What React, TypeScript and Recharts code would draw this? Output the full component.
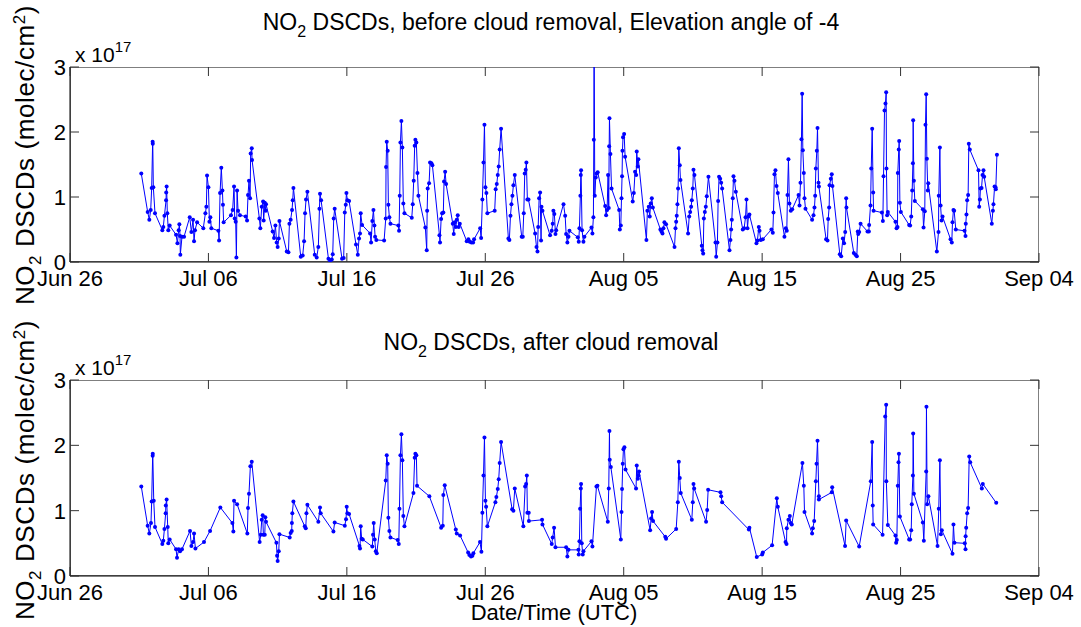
import React from "react";
import { LineChart, Line, XAxis, YAxis, ReferenceArea } from "recharts";

// x axis: days since Jun 26 00:00 UTC
const DAY_TICKS = [0, 10, 20, 30, 40, 50, 60, 70];
const DAY_LABELS = ["Jun 26", "Jul 06", "Jul 16", "Jul 26", "Aug 05", "Aug 15", "Aug 25", "Sep 04"];
const VALUE_TICKS = [0, 1, 2, 3];

// before cloud removal, elevation -4 (units of 1e17 molec/cm2)
const beforeDays = [
  5.15, 5.61, 5.73, 5.83, 5.9, 5.97, 5.98, 6.02, 6.14, 6.67, 6.74, 6.82, 6.94, 6.95, 6.98, 7.03, 7.1, 7.2,
  7.66, 7.76, 7.85, 7.9, 7.95, 7.97, 8.09, 8.24, 8.65, 8.77, 8.89, 8.96, 9.03, 9.18, 9.63, 9.78, 9.85, 9.9,
  10.0, 10.07, 10.14, 10.21, 10.72, 10.77, 10.84, 10.93, 11.01, 11.05, 11.1, 11.63, 11.75, 11.85, 11.9, 11.97,
  12.02, 12.07, 12.14, 12.28, 12.69, 12.79, 12.86, 12.93, 13.01, 13.05, 13.13, 13.15, 13.68, 13.75, 13.85,
  13.95, 13.99, 14.07, 14.14, 14.16, 14.64, 14.74, 14.84, 14.93, 15.0, 15.08, 15.13, 15.66, 15.78, 15.85,
  15.94, 16.04, 16.09, 16.14, 16.67, 16.81, 16.91, 16.98, 17.05, 17.15, 17.68, 17.82, 17.94, 18.02, 18.06,
  18.14, 18.67, 18.79, 18.91, 18.98, 19.05, 19.12, 19.65, 19.77, 19.85, 19.92, 19.97, 20.04, 20.16, 20.66,
  20.79, 20.88, 20.95, 21.0, 21.1, 21.68, 21.75, 21.84, 21.92, 21.99, 22.04, 22.13, 22.69, 22.81, 22.83,
  22.88, 22.95, 23.0, 23.07, 23.15, 23.72, 23.77, 23.82, 23.87, 23.94, 24.01, 24.08, 24.16, 24.69, 24.76,
  24.83, 24.9, 24.95, 25.02, 25.1, 25.17, 25.67, 25.77, 25.8, 25.84, 25.94, 26.01, 26.11, 26.18, 26.69,
  26.73, 26.81, 26.88, 26.97, 27.02, 27.1, 27.17, 27.65, 27.72, 27.79, 27.87, 27.94, 28.01, 28.08, 28.16,
  28.66, 28.78, 28.88, 29.0, 29.12, 29.19, 29.63, 29.7, 29.79, 29.87, 29.94, 30.01, 30.08, 30.15, 30.68,
  30.75, 30.83, 30.9, 30.97, 31.04, 31.14, 31.67, 31.74, 31.82, 31.89, 31.96, 32.03, 32.13, 32.63, 32.71,
  32.78, 32.85, 32.92, 32.97, 33.04, 33.12, 33.6, 33.7, 33.77, 33.82, 33.89, 33.96, 34.03, 34.06, 34.13,
  34.68, 34.8, 34.87, 34.92, 34.99, 35.07, 35.12, 35.65, 35.77, 35.84, 35.93, 36.01, 36.08, 36.68, 36.75,
  36.8, 36.87, 36.9, 36.92, 36.99, 37.09, 37.16, 37.67, 37.74, 37.81, 37.84, 37.86, 37.91, 37.98, 38.05,
  38.12, 38.66, 38.73, 38.8, 38.87, 38.92, 38.95, 38.97, 39.04, 39.12, 39.67, 39.72, 39.79, 39.84, 39.88,
  39.91, 39.95, 40.03, 40.1, 40.65, 40.73, 40.82, 40.9, 40.94, 41.02, 41.06, 41.64, 41.71, 41.81, 41.88,
  41.95, 42.03, 42.1, 42.65, 42.73, 42.8, 42.87, 42.94, 43.06, 43.67, 43.74, 43.79, 43.83, 43.88, 43.93,
  43.98, 44.05, 44.1, 44.65, 44.73, 44.8, 44.87, 44.92, 44.99, 45.04, 45.11, 45.64, 45.69, 45.74, 45.79,
  45.86, 45.93, 46.0, 46.12, 46.63, 46.68, 46.77, 46.82, 46.89, 46.97, 47.04, 47.11, 47.64, 47.71, 47.76,
  47.81, 47.88, 47.93, 48.0, 48.1, 48.6, 48.7, 48.8, 48.87, 48.94, 49.01, 49.08, 49.59, 49.66, 49.76,
  49.81, 49.9, 50.05, 50.67, 50.77, 50.82, 50.89, 50.96, 51.04, 51.13, 51.61, 51.71, 51.78, 51.83, 51.9,
  51.97, 52.07, 52.17, 52.63, 52.7, 52.77, 52.84, 52.89, 52.94, 53.01, 53.06, 53.13, 53.61, 53.71, 53.78,
  53.83, 53.88, 53.95, 54.0, 54.07, 54.1, 54.62, 54.72, 54.77, 54.84, 54.87, 54.96, 55.03, 55.08, 55.61,
  55.71, 55.83, 55.92, 56.0, 56.07, 56.09, 56.62, 56.74, 56.84, 56.91, 56.94, 57.01, 57.11, 57.61, 57.71,
  57.73, 57.83, 57.88, 57.95, 58.02, 58.05, 58.65, 58.72, 58.77, 58.84, 58.91, 58.96, 58.98, 59.03, 59.08,
  59.63, 59.71, 59.78, 59.8, 59.87, 59.9, 59.95, 60.02, 60.62, 60.69, 60.77, 60.84, 60.89, 60.91, 60.96,
  61.03, 61.61, 61.66, 61.75, 61.8, 61.85, 61.9, 61.97, 62.0, 62.62, 62.74, 62.76, 62.84, 62.89, 62.96,
  63.03, 63.61, 63.7, 63.75, 63.82, 63.87, 63.99, 64.62, 64.69, 64.71, 64.76, 64.81, 64.88, 64.93, 65.0,
  65.63, 65.68, 65.73, 65.77, 65.85, 65.92, 65.99, 66.04, 66.59, 66.67, 66.71, 66.79, 66.86, 66.88, 66.96,
];
const beforeValues = [
  1.36, 0.77, 0.65, 0.8, 1.14, 1.85, 1.82, 1.15, 0.75, 0.49, 0.54, 0.71, 0.95, 1.07, 1.16, 0.75, 0.49, 0.56,
  0.42, 0.29, 0.49, 0.58, 0.4, 0.11, 0.39, 0.39, 0.69, 0.46, 0.65, 0.32, 0.49, 0.61, 0.52, 0.75, 0.85, 1.33,
  1.15, 0.62, 0.69, 0.52, 0.48, 0.33, 1.06, 1.45, 1.1, 0.88, 0.61, 0.72, 0.8, 1.16, 0.67, 0.62,
  0.07, 1.1, 0.79, 0.72, 0.7, 0.64, 1.03, 1.25, 0.98, 1.67, 1.75, 1.57, 0.67, 0.52, 0.85,
  0.93, 0.64, 0.91, 0.79, 0.89, 0.47, 0.37, 0.56, 0.3, 0.23, 0.36, 0.63, 0.16, 0.15, 0.59,
  0.65, 0.8, 0.95, 1.14, 0.08, 0.1, 0.32, 0.75, 0.96, 1.08, 0.11, 0.07, 0.23, 0.82, 1.05,
  0.95, 0.05, 0.02, 0.04, 0.12, 0.67, 0.82, 0.05, 0.06, 0.76, 0.88, 1.06, 0.95, 0.94, 0.27,
  0.11, 0.36, 0.44, 0.75, 0.57, 0.44, 0.3, 0.63, 0.8, 0.56, 0.39, 0.34, 0.33, 0.67, 1.46,
  1.85, 1.71, 0.88, 0.69, 0.59, 0.56, 0.48, 1.02, 1.84, 2.17, 1.76, 0.9, 0.75, 0.68, 0.89,
  1.25, 1.79, 1.88, 1.84, 1.37, 1.02, 0.53, 0.18, 0.79, 1.13, 1.21, 1.53, 1.52, 1.49, 0.41,
  0.3, 0.66, 0.75, 0.76, 1.24, 1.39, 1.2, 0.59, 0.43, 0.61, 0.54, 0.65, 0.72, 0.54, 0.59,
  0.32, 0.35, 0.31, 0.3, 0.3, 0.35, 0.52, 0.37, 0.96, 1.53, 2.11, 1.15, 1.06, 0.75, 0.79,
  1.12, 1.2, 1.34, 1.47, 1.73, 2.05, 0.36, 0.34, 0.71, 0.89, 1.02, 1.18, 1.34, 0.39, 0.39,
  0.75, 1.36, 1.42, 1.53, 0.96, 0.96, 0.44, 0.23, 0.16, 0.54, 0.98, 1.07, 0.33, 0.85, 0.79,
  0.41, 0.48, 0.59, 0.79, 0.74, 0.43, 0.49, 0.89, 0.71, 0.43, 0.3, 0.39, 0.48, 0.38, 0.31,
  0.52, 1.02, 1.34, 1.41, 0.49, 0.31, 0.39, 0.53, 0.44, 0.69, 1.88, 3.6, 1.02, 1.3, 1.36,
  1.38, 0.86, 0.72, 0.8, 1.34, 0.83, 1.78, 2.21, 1.66, 1.13, 0.8, 0.5, 0.56, 0.98, 1.32,
  1.71, 1.92, 1.97, 1.62, 0.93, 1.06, 1.39, 1.34, 1.7, 1.47, 1.58, 0.34, 0.79, 0.85, 0.7,
  0.9, 0.98, 0.84, 0.5, 0.47, 0.44, 0.52, 0.61, 0.58, 0.23, 0.52, 0.62, 0.71, 0.89, 1.13,
  1.75, 1.49, 1.26, 0.44, 0.7, 0.77, 0.85, 0.95, 1.13, 1.42, 1.34, 0.25, 0.18, 0.13, 0.67,
  0.77, 0.85, 1.01, 1.31, 0.3, 0.08, 0.3, 0.94, 1.31, 1.28, 1.22, 1.13, 0.18, 0.34, 0.5,
  0.65, 0.98, 1.32, 1.25, 1.08, 0.5, 0.52, 0.69, 0.96, 0.52, 0.7, 0.73, 0.29, 0.33, 0.54,
  0.48, 0.34, 0.35, 0.5, 0.45, 0.76, 1.35, 1.41, 1.17, 1.06, 0.39, 0.52, 0.48, 1.03, 1.58,
  0.9, 0.79, 0.81, 1.03, 0.87, 1.22, 1.89, 2.59, 1.72, 1.37, 0.98, 0.82, 0.65, 0.72, 0.84,
  1.02, 1.44, 1.71, 2.06, 1.22, 1.16, 0.35, 0.33, 0.66, 0.84, 1.18, 1.28, 1.35, 1.17, 0.12,
  0.09, 0.36, 0.29, 0.46, 0.98, 0.84, 0.14, 0.11, 0.09, 0.47, 0.43, 0.46, 0.59, 0.47, 0.47,
  0.57, 0.87, 1.44, 2.05, 1.07, 0.79, 0.76, 0.63, 1.32, 2.33, 2.44, 2.61, 1.44, 0.72, 0.77,
  0.62, 0.52, 0.54, 1.37, 1.73, 1.86, 0.91, 0.77, 0.57, 0.56, 0.7, 1.1, 1.52, 2.18, 1.25,
  0.94, 0.81, 0.53, 0.78, 2.11, 2.58, 1.59, 1.1, 1.21, 0.16, 0.46, 1.02, 1.76, 0.87, 0.64,
  0.7, 0.35, 0.3, 0.61, 0.8, 0.79, 0.5, 0.48, 0.4, 0.59, 0.73, 0.95, 1.03, 1.82, 1.73,
  1.41, 0.85, 0.96, 1.13, 1.14, 1.34, 1.41, 1.31, 0.59, 0.79, 0.89, 1.16, 1.15, 1.12, 1.65,
];

// after cloud removal
const afterDays = [
  5.15, 5.61, 5.73, 5.85, 5.9, 5.97, 5.98, 6.05, 6.14, 6.67, 6.74, 6.82, 6.91, 6.92, 6.98, 7.06, 7.1, 7.2,
  7.66, 7.73, 7.85, 7.95, 8.09, 8.67, 8.77, 8.89, 8.96, 9.06, 9.68, 10.12, 10.86, 11.73, 11.8, 11.85, 12.07,
  12.81, 12.86, 12.93, 13.03, 13.13, 13.7, 13.78, 13.85, 13.92, 13.97, 14.07, 14.11, 14.16, 14.91, 14.96,
  15.0, 15.08, 15.13, 15.87, 15.94, 16.02, 16.03, 16.06, 16.14, 16.96, 17.03, 17.08, 17.15, 17.94, 18.06,
  18.11, 19.03, 19.12, 19.85, 19.94, 19.99, 20.04, 20.16, 20.91, 20.95, 21.0, 21.07, 21.15, 21.84, 21.89,
  21.94, 22.01, 22.09, 22.16, 22.81, 22.88, 22.95, 23.0, 23.07, 23.15, 23.67, 23.75, 23.8, 23.87, 23.94,
  24.01, 24.08, 24.16, 24.81, 24.9, 24.95, 25.02, 25.07, 25.96, 26.81, 26.93, 26.97, 27.07, 27.87, 27.94,
  28.18, 28.76, 28.85, 28.97, 29.07, 29.14, 29.62, 29.72, 29.79, 29.87, 29.94, 30.01, 30.06, 30.15, 30.73,
  30.8, 30.9, 30.97, 31.04, 31.14, 31.94, 32.03, 32.13, 32.75, 32.88, 32.95, 33.0, 33.04, 33.14, 33.15,
  34.1, 34.13, 34.8, 34.87, 34.97, 35.07, 35.84, 35.93, 36.01, 36.73, 36.75, 36.8, 36.85, 36.9, 36.92,
  36.97, 37.04, 37.09, 37.67, 37.74, 38.03, 38.1, 38.85, 38.92, 38.97, 38.99, 39.07, 39.79, 39.84, 39.88,
  39.93, 39.98, 40.05, 40.13, 40.89, 40.94, 41.02, 41.06, 41.11, 41.91, 41.98, 42.05, 42.12, 43.0, 43.06,
  43.79, 43.91, 43.98, 44.05, 44.12, 44.92, 44.99, 45.04, 45.09, 45.95, 46.03, 46.1, 46.99, 47.04, 47.11,
  49.04, 49.08, 49.61, 50.0, 50.05, 50.72, 51.06, 51.13, 51.69, 51.76, 51.78, 51.9, 52.0, 52.07, 52.14,
  52.91, 53.01, 53.06, 53.61, 53.66, 53.76, 53.88, 53.93, 54.0, 54.1, 54.1, 55.03, 55.06, 55.99, 56.07,
  57.01, 57.85, 57.95, 57.99, 58.02, 58.7, 58.89, 58.96, 58.97, 59.08, 59.63, 59.68, 59.73, 59.8, 59.85,
  59.88, 59.95, 60.62, 60.69, 60.77, 60.81, 60.89, 60.91, 60.96, 61.61, 61.68, 61.85, 61.87, 61.92, 62.01,
  62.67, 62.76, 62.84, 62.91, 62.98, 63.75, 63.82, 63.89, 64.64, 64.69, 64.7, 64.74, 64.81, 64.88, 64.96,
  65.03, 65.87, 65.94, 66.91,
];
const afterValues = [
  1.37, 0.77, 0.65, 0.81, 1.14, 1.84, 1.87, 1.15, 0.75, 0.49, 0.54, 0.72, 0.96, 1.08, 1.17, 0.75, 0.5, 0.56,
  0.41, 0.28, 0.41, 0.38, 0.41, 0.69, 0.46, 0.52, 0.65, 0.42, 0.52, 0.69, 1.05, 0.81, 0.68, 1.15, 1.1,
  0.65, 1.04, 1.26, 1.68, 1.75, 0.52, 0.63, 0.86, 0.93, 0.63, 0.63, 0.9, 0.83, 0.51, 0.31,
  0.23, 0.38, 0.64, 0.59, 0.66, 0.69, 0.81, 0.96, 1.14, 0.76, 0.73, 0.96, 1.09, 0.83, 1.05,
  0.96, 0.68, 0.82, 0.77, 0.87, 1.06, 0.96, 0.95, 0.46, 0.42, 0.76, 0.57, 0.56, 0.45, 0.63,
  0.81, 0.56, 0.38, 0.35, 1.46, 1.85, 1.72, 0.89, 0.69, 0.59, 0.55, 0.49, 1.03, 1.85, 2.17,
  1.77, 0.92, 0.76, 1.27, 1.81, 1.87, 1.85, 1.38, 1.22, 0.74, 0.77, 1.24, 1.39, 0.71, 0.65,
  0.62, 0.36, 0.32, 0.3, 0.31, 0.35, 0.52, 0.37, 0.97, 1.54, 2.12, 1.15, 1.06, 0.76, 1.13,
  1.21, 1.33, 1.48, 1.73, 2.05, 1.02, 1.0, 1.34, 0.76, 1.37, 1.41, 1.54, 0.97, 0.97, 0.84,
  0.86, 0.79, 0.49, 0.59, 0.74, 0.44, 0.44, 0.3, 0.4, 0.4, 0.33, 0.53, 1.03, 1.34, 1.41,
  0.5, 0.33, 0.38, 0.53, 0.45, 1.37, 1.38, 0.83, 1.34, 2.22, 1.78, 1.67, 0.56, 0.98, 1.33,
  1.72, 1.94, 1.97, 1.63, 1.34, 1.69, 1.49, 1.54, 1.6, 0.7, 0.88, 0.98, 0.84, 0.6, 0.57,
  0.72, 1.13, 1.75, 1.5, 1.27, 0.86, 1.13, 1.41, 1.34, 0.83, 1.01, 1.32, 1.28, 1.22, 1.13,
  0.71, 0.74, 0.29, 0.33, 0.36, 0.47, 1.19, 1.06, 0.52, 0.49, 0.73, 0.86, 0.92, 0.81, 0.79,
  1.73, 1.38, 0.98, 0.65, 0.73, 0.84, 1.45, 1.72, 2.07, 1.22, 1.17, 1.28, 1.36, 0.46, 0.85,
  0.45, 1.45, 2.05, 1.08, 0.79, 0.63, 2.44, 2.62, 1.45, 0.78, 0.62, 0.51, 0.55, 1.38, 1.74,
  1.87, 0.91, 0.56, 0.56, 0.7, 1.1, 1.54, 2.18, 1.26, 0.82, 0.54, 1.6, 2.59, 1.1, 1.22,
  0.46, 1.03, 1.77, 0.64, 0.7, 0.34, 0.79, 0.51, 0.5, 0.41, 0.61, 0.74, 0.96, 1.04, 1.83,
  1.74, 1.34, 1.41, 1.12,
];

const FONT = "'Liberation Sans', Arial, Helvetica, sans-serif";
const BLUE = "#0000ff";
const TICK = "#333";
const W = 1081;
const PLOT_W = 969;

const toRows = (days: number[], vals: number[]) =>
  days.map((d, i) => ({ day: d, dscd: vals[i] }));

// bottom tick label plus inward tick marks on bottom and top edges
const BottomTick = (props: any) => {
  const { x, y, payload, plotH } = props;
  return (
    <g>
      <line x1={x} y1={y} x2={x} y2={y - 9} stroke={TICK} strokeWidth={1} />
      <line x1={x} y1={y - plotH} x2={x} y2={y - plotH + 9} stroke={TICK} strokeWidth={1} />
      <text x={x} y={y + 24} textAnchor="middle" fontSize={22} fontFamily={FONT} fill="#000">
        {DAY_LABELS[DAY_TICKS.indexOf(payload.value)]}
      </text>
    </g>
  );
};

// left tick label plus inward tick marks on left and right edges
const LeftTick = (props: any) => {
  const { x, y, payload } = props;
  return (
    <g>
      <line x1={x} y1={y} x2={x + 9} y2={y} stroke={TICK} strokeWidth={1} />
      <line x1={x + PLOT_W} y1={y} x2={x + PLOT_W - 9} y2={y} stroke={TICK} strokeWidth={1} />
      <text x={x - 4} y={y + 8} textAnchor="end" fontSize={22} fontFamily={FONT} fill="#000">
        {payload.value}
      </text>
    </g>
  );
};

const Panel = ({ rows, height, top, bottom }: { rows: any[]; height: number; top: number; bottom: number }) => {
  const plotH = height - top - bottom;
  return (
    <LineChart width={W} height={height} data={rows} margin={{ top, right: 42, left: 0, bottom: 0 }}>
      <XAxis
        dataKey="day"
        type="number"
        domain={[0, 70]}
        allowDataOverflow
        ticks={DAY_TICKS}
        interval={0}
        height={bottom}
        tickSize={0}
        tickMargin={0}
        tickLine={false}
        axisLine={{ stroke: "#000" }}
        tick={<BottomTick plotH={plotH} />}
      />
      <YAxis
        type="number"
        domain={[0, 3]}
        allowDataOverflow
        ticks={VALUE_TICKS}
        interval={0}
        width={70}
        tickSize={0}
        tickMargin={0}
        tickLine={false}
        axisLine={{ stroke: "#000" }}
        tick={<LeftTick />}
      />
      {/* box around the axes */}
      <ReferenceArea x1={0} x2={70} y1={0} y2={3} fill="none" stroke="#000" strokeWidth={1} ifOverflow="hidden" />
      <Line
        type="linear"
        dataKey="dscd"
        stroke={BLUE}
        strokeWidth={1}
        dot={{ r: 2, fill: BLUE, stroke: "none" }}
        isAnimationActive={false}
      />
    </LineChart>
  );
};

const Title = ({ y, rest }: { y: number; rest: string }) => (
  <text x={551} y={y} textAnchor="middle" fontSize={23} fontFamily={FONT} fill="#000">
    NO<tspan dy={7} fontSize={16}>2</tspan>
    <tspan dy={-7}>{rest}</tspan>
  </text>
);

const YLabel = ({ cy }: { cy: number }) => (
  <text
    x={34}
    y={cy}
    transform={`rotate(-90 34 ${cy})`}
    textAnchor="middle"
    fontSize={26}
    letterSpacing={0.6}
    fontFamily={FONT}
    fill="#000"
  >
    NO<tspan dy={7} fontSize={17}>2</tspan>
    <tspan dy={-7}> DSCDs (molec/cm</tspan>
    <tspan dy={-9} fontSize={17}>2</tspan>
    <tspan dy={9}>)</tspan>
  </text>
);

const Exponent = ({ y }: { y: number }) => (
  <text x={75} y={y} fontSize={21} fontFamily={FONT} fill="#000">
    x 10<tspan dy={-10} fontSize={15}>17</tspan>
  </text>
);

export default function App() {
  const before = toRows(beforeDays, beforeValues);
  const after = toRows(afterDays, afterValues);
  return (
    <div style={{ position: "absolute", left: 0, top: 0, width: W, height: 627, background: "#fff" }}>
      <div style={{ position: "absolute", left: 0, top: 0 }}>
        <Panel rows={before} height={310} top={67} bottom={48} />
      </div>
      <div style={{ position: "absolute", left: 0, top: 310 }}>
        <Panel rows={after} height={317} top={70} bottom={51} />
      </div>
      <svg width={W} height={627} style={{ position: "absolute", left: 0, top: 0, pointerEvents: "none" }}>
        <Title y={30} rest=" DSCDs, before cloud removal, Elevation angle of -4" />
        <Title y={350} rest=" DSCDs, after cloud removal" />
        <Exponent y={62} />
        <Exponent y={375} />
        <YLabel cy={155} />
        <YLabel cy={470} />
        <text x={554} y={620} textAnchor="middle" fontSize={22} fontFamily={FONT} fill="#000">
          Date/Time (UTC)
        </text>
      </svg>
    </div>
  );
}
